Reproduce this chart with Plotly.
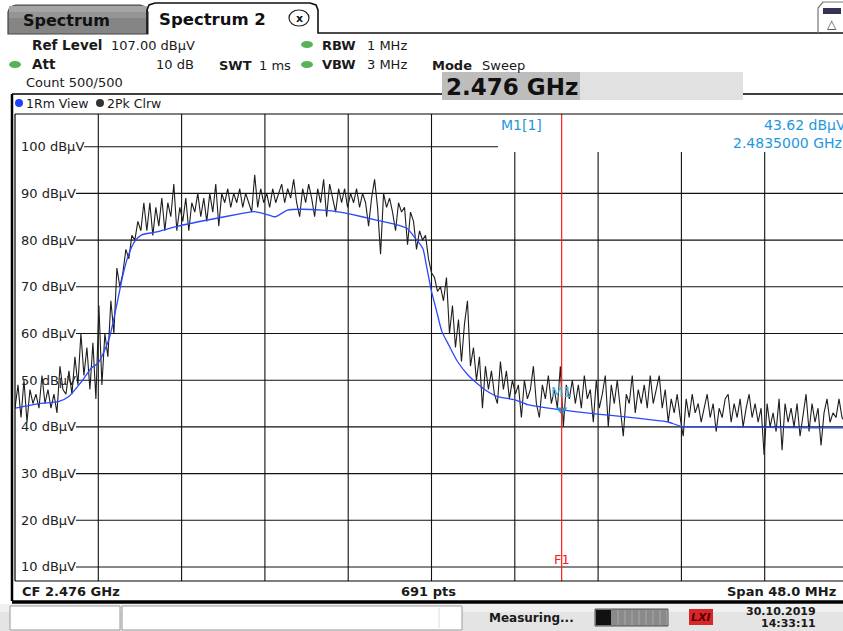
import numpy as np
import plotly.graph_objects as go

# ---------------- data ----------------
CENTER_GHZ = 2.476
SPAN_GHZ = 0.048
F_START = CENTER_GHZ - SPAN_GHZ / 2
F_STOP = CENTER_GHZ + SPAN_GHZ / 2
REF_LEVEL = 107.0
RANGE_DB = 100.0
N_DIV = 10

# trace 2 : Pk Clrw (black) at even sweep steps
peak_dbuv = [
    44, 49, 42, 50, 41, 48, 45, 47, 44, 51, 45, 48, 44, 47, 43, 53, 48, 47, 52, 47,
    55, 49, 60, 51, 57, 48, 58, 46, 66, 49, 60, 55, 67, 60, 74, 70, 73, 78, 76, 81,
    80, 84, 82, 88, 82, 88, 81, 87, 83, 89, 82, 88, 85, 92, 82, 87, 84, 89, 82, 88,
    86, 90, 85, 89, 84, 90, 86, 92, 83, 90, 88, 91, 87, 90, 88, 91, 87, 90, 88, 86,
    94, 87, 91, 88, 90, 87, 91, 88, 90, 92, 88, 91, 89, 93, 88, 85, 91, 88, 92, 89,
    85, 91, 88, 93, 85, 92, 89, 86, 91, 88, 91, 87, 90, 88, 91, 87, 90, 88, 83, 89,
    93, 87, 77, 90, 87, 89, 86, 82, 88, 86, 87, 79, 86, 84, 78, 82, 80, 81, 76, 73,
    72, 69, 70, 67, 72, 60, 66, 57, 63, 54, 62, 67, 53, 57, 50, 55, 44, 53, 48, 52,
    47, 45, 54, 48, 52, 46, 50, 47, 49, 42, 50, 46, 48, 53, 45, 42, 49, 46, 51, 45,
    48, 44, 53, 40, 49, 46, 50, 45, 49, 44, 51, 46, 48, 41, 50, 44, 47, 51, 40, 49,
    45, 50, 44, 38, 47, 45, 51, 43, 48, 45, 49, 44, 51, 45, 48, 51, 44, 48, 41, 46,
    43, 47, 42, 38, 46, 42, 47, 43, 45, 41, 44, 47, 42, 45, 39, 44, 42, 46, 47, 41,
    45, 42, 46, 40, 44, 47, 42, 45, 41, 44, 34, 45, 40, 43, 39, 46, 35, 45, 41, 44,
    40, 45, 38, 43, 47, 39, 45, 41, 44, 36, 43, 46, 41, 43, 42, 46, 42, 41, 43,
]

# trace 1 : Rm View (blue)
rms_freq_ghz = [
    2.4520, 2.4534, 2.4545, 2.4551, 2.4559, 2.4564, 2.4568, 2.4574, 2.4578, 2.4582,
    2.4585, 2.4589, 2.4593, 2.4601, 2.4614, 2.4631, 2.4651, 2.4658, 2.4666, 2.4670,
    2.4677, 2.4685, 2.4697, 2.4707, 2.4714, 2.4727, 2.4739, 2.4746, 2.4750, 2.4755,
    2.4757, 2.4760, 2.4763, 2.4766, 2.4770, 2.4775, 2.4781, 2.4785, 2.4791, 2.4798,
    2.4808, 2.4816, 2.4835, 2.4854, 2.4873, 2.4887, 2.4896, 2.4904, 2.4923, 2.4952,
    2.4981, 2.5000,
]
rms_dbuv = [
    44.0, 45.0, 45.4, 46.5, 50.0, 52.6, 53.7, 58.6, 65.0, 72.2,
    76.4, 79.7, 81.1, 81.7, 83.0, 84.3, 85.7, 86.1, 85.4, 85.0,
    86.4, 86.6, 86.4, 86.0, 85.5, 84.4, 83.4, 82.5, 80.7, 78.2,
    74.7, 69.0, 64.7, 60.4, 57.5, 54.0, 51.1, 49.7, 47.9, 46.5,
    45.8, 44.7, 43.62, 42.8, 42.1, 41.5, 41.1, 40.1, 40.0, 39.9,
    39.8, 39.8,
]

y_grid_dbuv = [100, 90, 80, 70, 60, 50, 40, 30, 20, 10]
marker_freq_ghz = 2.4835
marker_level_dbuv = 43.62

# ---------------- geometry helpers (pixels -> paper) ----------------
W, H = 843, 631
ML, MR, MT, MB = 15, 0, 114, 50
PW = W - ML - MR
PH = H - MT - MB


def px(x):
    return (x - ML) / PW


def py(y):
    return (H - MB - y) / PH


FONT = "DejaVu Sans"
TXT = "#1a1a1a"
MK_BLUE = "#1f97dd"

shapes = []
ann = []


def rect(x0, y0, x1, y1, fill=None, line=None, lw=0, layer="above"):
    shapes.append(dict(type="rect", xref="paper", yref="paper",
                       x0=px(x0), x1=px(x1), y0=py(y1), y1=py(y0),
                       fillcolor=fill if fill else "rgba(0,0,0,0)",
                       line=dict(color=line if line else "rgba(0,0,0,0)", width=lw),
                       layer=layer))


def ell(x0, y0, x1, y1, fill, line=None, lw=0):
    shapes.append(dict(type="circle", xref="paper", yref="paper",
                       x0=px(x0), x1=px(x1), y0=py(y1), y1=py(y0),
                       fillcolor=fill,
                       line=dict(color=line if line else "rgba(0,0,0,0)", width=lw)))


def seg(x0, y0, x1, y1, color="black", w=1, layer="above"):
    shapes.append(dict(type="line", xref="paper", yref="paper",
                       x0=px(x0), x1=px(x1), y0=py(y0), y1=py(y1),
                       line=dict(color=color, width=w), layer=layer))


def path(pts, fill=None, line="black", lw=1, closed=True):
    d = "M " + " L ".join(f"{px(a):.5f},{py(b):.5f}" for a, b in pts)
    if closed:
        d += " Z"
    shapes.append(dict(type="path", xref="paper", yref="paper", path=d,
                       fillcolor=fill if fill else "rgba(0,0,0,0)",
                       line=dict(color=line, width=lw)))


def txt(x, y, s, size=13, color=TXT, bold=False, anchor="left", bg=None):
    a = dict(xref="paper", yref="paper", x=px(x), y=py(y), text=f"<b>{s}</b>" if bold else s,
             showarrow=False, xanchor=anchor, yanchor="middle",
             font=dict(family=FONT, size=size, color=color))
    if bg:
        a["bgcolor"] = bg
    ann.append(a)


# ---------------- figure ----------------
fig = go.Figure()

peak_freq_ghz = np.linspace(F_START, F_STOP, len(peak_dbuv))
fig.add_trace(go.Scatter(x=peak_freq_ghz, y=peak_dbuv, mode="lines",
                         line=dict(color="#1e1e1e", width=1.1), hoverinfo="skip"))
fig.add_trace(go.Scatter(x=rms_freq_ghz, y=rms_dbuv, mode="lines",
                         line=dict(color="#2a48ff", width=1.3, shape="spline", smoothing=0.6),
                         hoverinfo="skip"))
fig.add_trace(go.Scatter(x=[marker_freq_ghz], y=[marker_level_dbuv], mode="markers",
                         marker=dict(symbol="triangle-down", size=10, color=MK_BLUE),
                         hoverinfo="skip"))
ann.append(dict(xref="x", yref="y", x=marker_freq_ghz, y=marker_level_dbuv, text="M1",
                showarrow=False, xanchor="center", yanchor="bottom", yshift=8,
                font=dict(family=FONT, size=14, color="#55b0ea")))

# --- grid (drawn as shapes so it can start after the in-plot labels) ---
box_left_px = 498
box_bottom_px = 152
div_ghz = SPAN_GHZ / N_DIV
for k in range(1, N_DIV):
    f = F_START + k * div_ghz
    xpix = ML + (f - F_START) / SPAN_GHZ * 833
    top = 1 if xpix < box_left_px else py(box_bottom_px)
    shapes.append(dict(type="line", xref="x", yref="paper", x0=f, x1=f, y0=0, y1=top,
                       line=dict(color="#111111", width=1.1), layer="below"))
for v in y_grid_dbuv:
    lab = f"{v} dBµV"
    start = 84 if v >= 100 else 76
    end = 1 if v < 100 else px(box_left_px)
    shapes.append(dict(type="line", xref="paper", yref="y", x0=px(start), x1=end, y0=v, y1=v,
                       line=dict(color="#111111", width=1.1), layer="below"))
    ann.append(dict(xref="paper", yref="y", x=px(19), y=v, text=lab, showarrow=False,
                    xanchor="left", yanchor="middle",
                    font=dict(family=FONT, size=13, color="#222222")))

# frequency line F1 (at marker frequency)
shapes.append(dict(type="line", xref="x", yref="paper", x0=marker_freq_ghz, x1=marker_freq_ghz,
                   y0=0, y1=1, line=dict(color="#ff1a1a", width=1.2), layer="above"))
ann.append(dict(xref="x", yref="paper", x=marker_freq_ghz, y=py(559), text="F1", showarrow=False,
                xanchor="center", yanchor="middle", font=dict(family=FONT, size=13, color="#ff1a1a")))

# marker readout
txt(499, 125, "M1[1]", 14, MK_BLUE)
txt(762, 125, f"{marker_level_dbuv:.2f} dBµV", 14, MK_BLUE)
txt(731, 143, f"{marker_freq_ghz:.7f} GHz", 14, MK_BLUE)

# plot frame
seg(15, 114, 843, 114, "black", 1.2)
seg(15, 581, 843, 581, "black", 1.2)
seg(15, 114, 15, 581, "black", 1.2)
seg(12, 94, 12, 601, "black", 2.5)

# trace window header row
seg(12, 94, 442, 94, "black", 1.5)
seg(743, 94, 843, 94, "black", 1.5)
ell(15, 99, 23, 107, "#2040ff")
txt(24, 103, "1Rm View", 12.5)
ell(96, 99, 104, 107, "#333333")
txt(105, 103, "2Pk Clrw", 12.5)

# frequency display box
rect(442, 72, 580, 100, fill="#bdbdbd")
rect(580, 72, 743, 100, fill="#e1e1e1")
txt(444, 87, "2.476 GHz", 23, "#111111", bold=True)

# header settings
txt(30, 45, "Ref Level", 13.5, bold=True)
txt(109, 45, "107.00 dBµV", 13)
ell(9, 61, 21, 68, "#56b356")
txt(30, 64, "Att", 13.5, bold=True)
txt(196, 64, "10 dB", 13, anchor="right")
txt(217, 65, "SWT", 13, bold=True)
txt(257, 65, "1 ms", 13)
ell(301, 41, 313, 48, "#56b356")
txt(320, 45, "RBW", 13, bold=True)
txt(365, 45, "1 MHz", 13)
ell(301, 61, 313, 68, "#56b356")
txt(320, 64, "VBW", 13, bold=True)
txt(365, 64, "3 MHz", 13)
txt(24, 83, "Count 500/500", 13)
txt(430, 65, "Mode", 13, bold=True)
txt(480, 65, "Sweep", 13)

# tabs
path([(8, 34), (8, 12), (10, 7), (16, 5), (140, 5), (146, 7), (148, 12), (148, 34)],
     fill="#858585", line="#444444", lw=1.2)
rect(9, 6, 147, 12, fill="#a5a5a5")
rect(9, 12, 147, 18, fill="#959595")
txt(21, 20, "Spectrum", 16, "#111111", bold=True)
path([(147, 34), (147, 10), (149, 5), (155, 3), (310, 3), (316, 5), (318, 10), (318, 33), (843, 33)],
     fill=None, line="#111111", lw=1.6, closed=False)
txt(157, 19, "Spectrum 2", 16.5, "#111111", bold=True)
ell(289, 10, 309, 26, "white", "#222222", 1.2)
txt(299, 18, "x", 11, "#111111", bold=True, anchor="center")
# right icon
path([(818, 33), (818, 8), (823, 2), (843, 2)], fill=None, line="#777777", lw=1.2, closed=False)
rect(823, 8, 841, 14, fill="#333355")
txt(832, 24, "△", 12, "#333333", anchor="center")

# bottom info bar
txt(20, 591, "CF 2.476 GHz", 13, bold=True)
txt(428, 591, "691 pts", 13, bold=True, anchor="center")
txt(838, 591, "Span 48.0 MHz", 13, bold=True, anchor="right")
seg(12, 602, 843, 602, "black", 3.5)

# status bar
rect(0, 604, 843, 631, fill="#e4e4e4")
rect(0, 604, 843, 612, fill="#f0f0f0")
rect(10, 606, 120, 630, fill="white", line="#9a9a9a", lw=1)
rect(122, 606, 462, 630, fill="white", line="#9a9a9a", lw=1)
seg(439, 608, 439, 628, "#dddddd", 1)
txt(487, 618, "Measuring...", 12, bold=True)
rect(595, 609, 668, 626, fill="#8a8a8a", line="#555555", lw=1)
rect(596, 610, 611, 625, fill="#111111")
for sx in range(618, 668, 7):
    seg(sx, 610, sx, 625, "#a8a8a8", 1)
rect(689, 609, 713, 625, fill="#d9262b")
txt(701, 617, "<i>LXI</i>", 11, "#5a0000", bold=True, anchor="center")
txt(818, 611, "30.10.2019", 11, bold=True, anchor="right")
txt(818, 623, "14:33:11", 11, bold=True, anchor="right")

x_vis_stop = F_START + SPAN_GHZ * PW / 833
fig.update_layout(
    width=W, height=H,
    margin=dict(l=ML, r=MR, t=MT, b=MB),
    paper_bgcolor="white", plot_bgcolor="white",
    showlegend=False,
    xaxis=dict(range=[F_START, x_vis_stop], visible=False, fixedrange=True),
    yaxis=dict(range=[REF_LEVEL - RANGE_DB, REF_LEVEL], visible=False, fixedrange=True),
    shapes=shapes, annotations=ann,
)

fig.write_html("out.html", config={"displayModeBar": False},
               post_script="document.body.style.margin='0px';document.body.style.overflow='hidden';")
